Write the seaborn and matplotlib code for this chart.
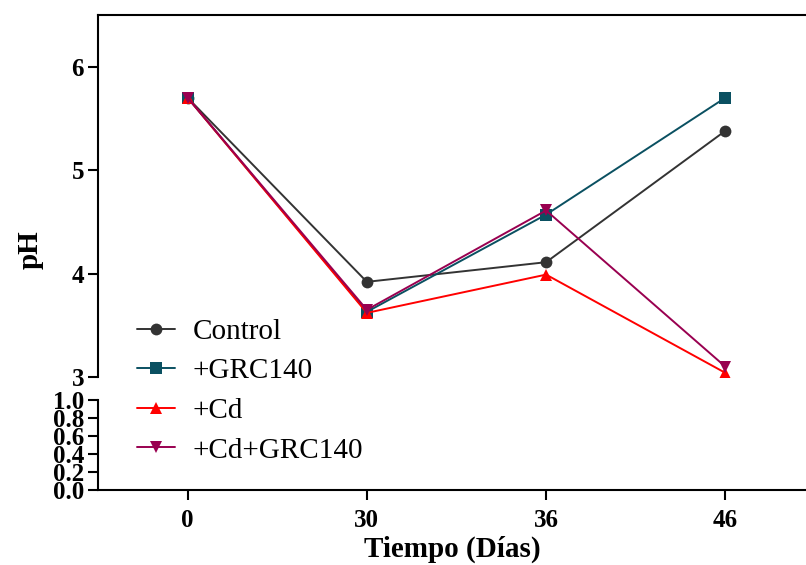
import matplotlib
matplotlib.use("Agg")
import matplotlib.pyplot as plt
import seaborn as sns
import pandas as pd

days = ["0", "30", "36", "46"]
control = [5.70, 3.92, 4.11, 5.38]
grc140 = [5.70, 3.63, 4.57, 5.70]
cd = [5.70, 3.62, 3.99, 3.04]
cd_grc140 = [5.70, 3.65, 4.61, 3.10]
series_names = ["Control", "+GRC140", "+Cd", "+Cd+GRC140"]
colors = ["#333333", "#0a5061", "#ff0000", "#990050"]
markers = ["o", "s", "^", "v"]

rows = []
for name, vals in zip(series_names, [control, grc140, cd, cd_grc140]):
    for d, v in zip(days, vals):
        rows.append({"Tiempo": d, "pH": v, "Grupo": name})
df = pd.DataFrame(rows)

sns.set_style("ticks")
plt.rcParams["font.family"] = ["Liberation Serif", "DejaVu Serif"]
plt.rcParams["text.color"] = "black"
plt.rcParams["axes.labelcolor"] = "black"

fig = plt.figure(figsize=(8.06, 5.65), dpi=100)
W, H = 806, 565
ax_top = fig.add_axes([98 / W, 1 - 377 / H, 1 - 98 / W, (377 - 15) / H])
ax_bot = fig.add_axes([98 / W, 1 - 490 / H, 1 - 98 / W, (490 - 400) / H])

palette = dict(zip(series_names, colors))
mk = dict(zip(series_names, markers))
for ax in (ax_top, ax_bot):
    sns.lineplot(data=df, x="Tiempo", y="pH", hue="Grupo", style="Grupo",
                 palette=palette, markers=mk, dashes=False, ax=ax,
                 linewidth=1.4, markersize=8.5, markeredgewidth=0,
                 legend=(ax is ax_top))
    ax.set_xlim(-0.5, 3.45)

ax_top.set_ylim(3, 6.5)
ax_top.set_yticks([3, 4, 5, 6])
ax_bot.set_ylim(0, 1.0)
ax_bot.set_yticks([0.0, 0.2, 0.4, 0.6, 0.8, 1.0])
ax_bot.set_yticklabels(["0.0", "0.2", "0.4", "0.6", "0.8", "1.0"])

ax_top.spines["right"].set_visible(False)
ax_top.spines["bottom"].set_visible(False)
ax_top.tick_params(axis="x", which="both", bottom=False, labelbottom=False)
ax_bot.spines["right"].set_visible(False)
ax_bot.spines["top"].set_visible(False)

for ax in (ax_top, ax_bot):
    for s in ax.spines.values():
        s.set_linewidth(1.5)
        s.set_color("black")
    ax.tick_params(axis="both", direction="out", length=7, width=1.5,
                   labelsize=18, colors="black", pad=3)
    for lab in ax.get_yticklabels() + ax.get_xticklabels():
        lab.set_fontweight("bold")
    ax.set_xlabel("")
    ax.set_ylabel("")
    ax.set_facecolor("none")

ax_bot.tick_params(axis="x", pad=7)
ax_bot.set_xlabel("Tiempo (Días)", fontsize=21, fontweight="bold", labelpad=2)
fig.text(30 / W, 1 - 250 / H, "pH", rotation=90, fontsize=21,
         fontweight="bold", ha="center", va="center")

handles, labels = ax_top.get_legend_handles_labels()
ax_top.get_legend().remove()
fig.legend(handles, labels, loc="center left",
           bbox_to_anchor=(137 / W, 1 - 391 / H), frameon=False,
           fontsize=21, labelspacing=0.45, handlelength=1.3, handletextpad=0.6,
           borderaxespad=0, borderpad=0)

fig.savefig("out.png", dpi=100)
